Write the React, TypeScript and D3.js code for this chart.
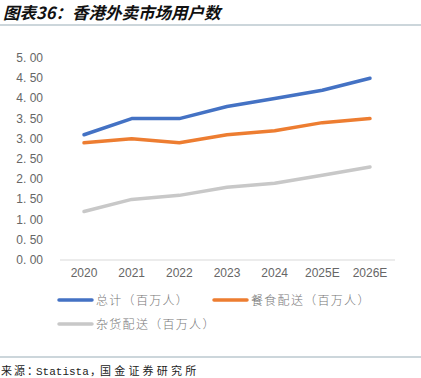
import React from "react";
import * as d3 from "d3";

const categories = ["2020", "2021", "2022", "2023", "2024", "2025E", "2026E"];
const totalUsers = [3.1, 3.5, 3.5, 3.8, 4.0, 4.2, 4.5];
const foodUsers = [2.9, 3.0, 2.9, 3.1, 3.2, 3.4, 3.5];
const groceryUsers = [1.2, 1.5, 1.6, 1.8, 1.9, 2.1, 2.3];
const yTicks = [0, 0.5, 1, 1.5, 2, 2.5, 3, 3.5, 4, 4.5, 5];
const seriesNames = ["总计（百万人）", "餐食配送（百万人）", "杂货配送（百万人）"];
const seriesColors = ["#4472C4", "#ED7D31", "#C8C8C8"];

const W = 421;
const H = 378;

export default function App() {
  const x = d3.scalePoint<string>().domain(categories).range([84, 370]);
  const y = d3.scaleLinear().domain([0, 5]).range([260, 58]);
  const line = d3
    .line<number>()
    .x((_, i) => x(categories[i]) as number)
    .y((d) => y(d));
  const series = [totalUsers, foodUsers, groceryUsers];
  const font = "'Noto Sans CJK SC', 'Noto Sans', sans-serif";
  const legendPos = [
    { x: 59, y: 300 },
    { x: 214, y: 300 },
    { x: 59, y: 324 },
  ];
  return (
    <div style={{ position: "absolute", left: 0, top: 0 }}>
      <svg width={W} height={H} style={{ display: "block", background: "#fff" }}>
        <text
          x={3}
          y={19}
          fontFamily={font}
          fontSize={16.5}
          fontStyle="italic"
          fontWeight={700}
          fill="#111"
        >
          图表36：香港外卖市场用户数
        </text>
        <line x1={0} x2={W} y1={25} y2={25} stroke="#9AADB8" strokeWidth={1.2} />
        {yTicks.map((t) => (
          <text
            key={t}
            x={43}
            y={y(t) + 4}
            textAnchor="end"
            fontFamily="'Liberation Sans', Arial, sans-serif"
            fontSize={12}
            fill="#666"
          >
            {t.toFixed(2).replace(".", ". ")}
          </text>
        ))}
        <line x1={60} x2={395} y1={y(0)} y2={y(0)} stroke="#D9D9D9" strokeWidth={1} />
        {categories.map((c) => (
          <text
            key={c}
            x={x(c) as number}
            y={277}
            textAnchor="middle"
            fontFamily="'Liberation Sans', Arial, sans-serif"
            fontSize={12}
            fill="#666"
          >
            {c}
          </text>
        ))}
        {series.map((s, i) => (
          <path
            key={i}
            d={line(s) as string}
            fill="none"
            stroke={seriesColors[i]}
            strokeWidth={3.5}
            strokeLinejoin="round"
            strokeLinecap="round"
          />
        ))}
        {seriesNames.map((n, i) => (
          <g key={n} transform={`translate(${legendPos[i].x},${legendPos[i].y})`}>
            <line x1={0} x2={33} y1={0} y2={0} stroke={seriesColors[i]} strokeWidth={3.5} strokeLinecap="round" />
            <text x={37} y={4.5} fontFamily={font} fontSize={12} fontWeight={300} letterSpacing={1.3} fill="#777">
              {n}
            </text>
          </g>
        ))}
        <line x1={0} x2={W} y1={357} y2={357} stroke="#9AADB8" strokeWidth={1.2} />
        <text y={375} fontFamily={font} fontSize={11} fill="#222">
          <tspan x={1} letterSpacing={2}>来源：</tspan>
          <tspan x={36} fontFamily="'Liberation Mono', 'DejaVu Sans Mono', monospace" fontSize={11}>Statista</tspan>
          <tspan x={90}>，</tspan>
          <tspan x={100} letterSpacing={3.2}>国金证券研究所</tspan>
        </text>
      </svg>
    </div>
  );
}
